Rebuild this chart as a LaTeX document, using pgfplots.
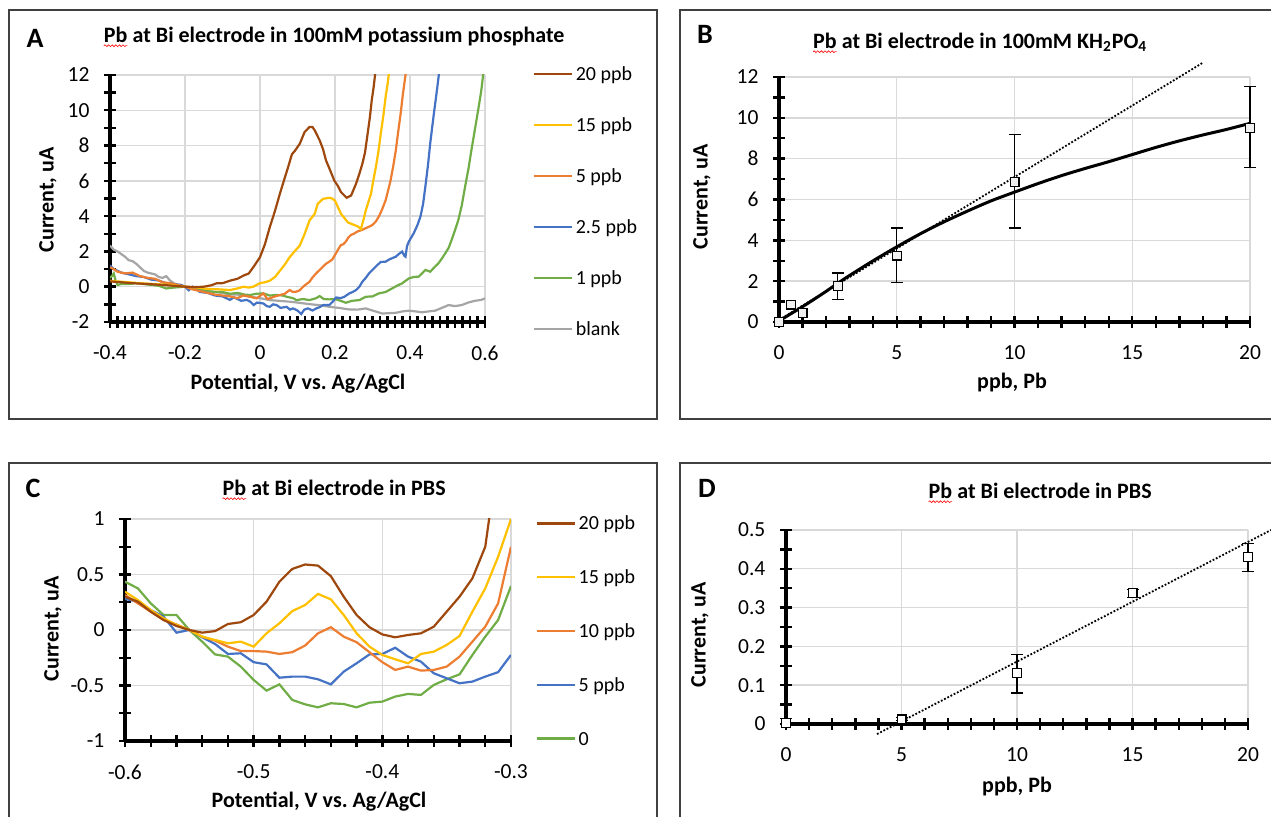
\documentclass[border=0pt]{standalone}
\usepackage{fontspec}
\setmainfont{Carlito}
\usepackage{pgfplots}
\pgfplotsset{compat=1.18}
\usetikzlibrary{decorations.pathmorphing}

\definecolor{c20}{HTML}{9E480E}
\definecolor{c15}{HTML}{FFC000}
\definecolor{c5}{HTML}{ED7D31}
\definecolor{c25}{HTML}{4472C4}
\definecolor{c1}{HTML}{70AD47}
\definecolor{cb}{HTML}{A5A5A5}
\definecolor{gridc}{HTML}{D9D9D9}
\definecolor{framec}{HTML}{404040}

\newcommand\ttl{\fontsize{11}{13}\selectfont\bfseries}
\newcommand\pnl{\fontsize{14}{16}\selectfont\bfseries}
% red spell-check squiggle under a word
\newcommand\spell[1]{\tikz[baseline=(w.base)]{\node[inner sep=0pt,outer sep=0pt](w){#1};
  \draw[red,line width=0.3pt,decorate,decoration={snake,amplitude=0.45pt,segment length=1.8pt}]
  ([yshift=-1.5pt]w.south west)--([yshift=-1.5pt]w.south east);}}

\pgfplotsset{
  xlstyle/.style={
    scale only axis,
    axis lines=left,
    axis line style={-, black, line width=1.6pt},
    xtick pos=left, ytick pos=left,
    tick align=center,
    major tick length=5.6pt, minor tick length=5.6pt,
    every tick/.style={black, line width=1.2pt},
    every minor tick/.style={black, line width=1.2pt},
    grid=major, major grid style={gridc, line width=0.7pt},
    tick label style={font=\fontsize{10.75}{12}\selectfont, inner sep=0pt},
    xticklabel style={yshift=-8.8pt},
    yticklabel style={xshift=-7.3pt},
  },
  lgstyle/.style={
    legend cell align=left,
    legend image code/.code={\draw[##1, line width=1.2pt] (0pt,0pt) -- (19pt,0pt);},
    legend style={draw=none, fill=none, inner sep=0pt, column sep=1.5pt,
      font=\fontsize{10}{12}\selectfont,
      nodes={inner sep=0pt, text height=7pt, text depth=0.5pt}},
  },
  dotline/.style={black, line width=0.9pt, dash pattern=on 0.9pt off 0.9pt},
}

\begin{document}
\begin{tikzpicture}
% panel frames
\draw[framec, line width=0.8pt] (4.5pt,199pt) rectangle (328.5pt,403.5pt);
\draw[framec, line width=0.8pt] (640pt,403.5pt) -- (340pt,403.5pt) -- (340pt,199pt) -- (640pt,199pt);
\draw[framec, line width=0.8pt] (4.5pt,-5pt) -- (4.5pt,177pt) -- (328.5pt,177pt) -- (328.5pt,-5pt);
\draw[framec, line width=0.8pt] (640pt,177pt) -- (340pt,177pt) -- (340pt,-5pt);

% ---------------- A ----------------
\begin{axis}[xlstyle, lgstyle, at={(55pt,247.5pt)}, anchor=south west,
  width=187.5pt, height=123.5pt,
  xmin=-0.4, xmax=0.6, ymin=-2, ymax=12,
  xtick={-0.4,-0.2,0,0.2,0.4,0.6}, xticklabels={-0.4,-0.2,0,0.2,0.4,0.6},
  ytick={-2,0,2,4,6,8,10,12}, yticklabels={-2,0,2,4,6,8,10,12},
  minor x tick num=9, minor y tick num=1,
  every axis plot/.append style={line width=1.1pt},
  reverse legend,
  legend style={at={(axis description cs:1.1253,1.037)}, anchor=north west, row sep=18pt},
]
\addplot[cb] coordinates {
(-0.40,2.33) (-0.39,2.1) (-0.38,2.0) (-0.37,1.85) (-0.36,1.7) (-0.35,1.5) (-0.34,1.45) (-0.33,1.3)
(-0.32,1.1) (-0.31,0.9) (-0.30,0.8) (-0.28,0.7) (-0.27,0.55) (-0.26,0.5) (-0.25,0.6) (-0.24,0.35)
(-0.23,0.2) (-0.22,0.1) (-0.20,0.0) (-0.18,-0.1) (-0.16,-0.2) (-0.14,-0.25) (-0.12,-0.3) (-0.10,-0.35)
(-0.08,-0.45) (-0.06,-0.45) (-0.04,-0.5) (-0.026,-0.57) (0.0,-0.65) (0.026,-0.76) (0.05,-0.8)
(0.079,-0.85) (0.1,-0.9) (0.132,-0.99) (0.16,-1.05) (0.185,-1.14) (0.21,-1.2) (0.238,-1.29)
(0.26,-1.3) (0.282,-1.23) (0.3,-1.35) (0.326,-1.52) (0.345,-1.5) (0.362,-1.48) (0.38,-1.4)
(0.397,-1.36) (0.415,-1.4) (0.432,-1.45) (0.45,-1.4) (0.467,-1.36) (0.485,-1.2) (0.503,-1.04)
(0.52,-1.1) (0.538,-1.04) (0.555,-0.9) (0.573,-0.8) (0.59,-0.75) (0.6,-0.66)};
\addlegendentry{blank}
\addplot[c1] coordinates {
(-0.40,0.5) (-0.395,0.6) (-0.39,0.75) (-0.385,0.35) (-0.38,0.1) (-0.37,0.15) (-0.35,0.15) (-0.33,0.2)
(-0.31,0.15) (-0.29,0.1) (-0.27,0.05) (-0.25,-0.1) (-0.23,-0.05) (-0.20,0.0) (-0.18,-0.1) (-0.16,-0.15)
(-0.14,-0.25) (-0.12,-0.3) (-0.10,-0.3) (-0.08,-0.4) (-0.06,-0.35) (-0.04,-0.45) (-0.026,-0.47)
(-0.01,-0.4) (0.009,-0.38) (0.026,-0.5) (0.044,-0.47) (0.06,-0.5) (0.071,-0.57) (0.088,-0.65)
(0.097,-0.76) (0.115,-0.7) (0.132,-0.76) (0.15,-0.65) (0.159,-0.53) (0.17,-0.7) (0.185,-0.72)
(0.2,-0.7) (0.215,-0.8) (0.229,-0.91) (0.245,-0.8) (0.265,-0.76) (0.282,-0.57) (0.3,-0.55)
(0.317,-0.38) (0.335,-0.3) (0.353,-0.09) (0.365,0.05) (0.379,0.19) (0.397,0.47) (0.41,0.55)
(0.423,0.57) (0.432,0.75) (0.441,0.95) (0.454,0.85) (0.465,1.1) (0.476,1.33) (0.485,1.6)
(0.494,1.89) (0.503,2.2) (0.511,2.65) (0.52,3.2) (0.529,3.79) (0.538,4.6) (0.547,5.68)
(0.556,6.7) (0.564,7.77) (0.573,8.9) (0.582,10.04) (0.59,11.1) (0.595,12.0) (0.6,12.3)};
\addlegendentry{1 ppb}
\addplot[c25] coordinates {
(-0.40,1.2) (-0.39,1.0) (-0.38,0.9) (-0.37,0.8) (-0.35,0.7) (-0.33,0.6) (-0.31,0.55) (-0.29,0.4)
(-0.27,0.35) (-0.25,0.2) (-0.23,0.15) (-0.21,0.1) (-0.20,0.0) (-0.19,-0.2) (-0.18,0.0) (-0.16,-0.3)
(-0.14,-0.35) (-0.12,-0.5) (-0.10,-0.55) (-0.08,-0.75) (-0.07,-0.6) (-0.05,-0.8) (-0.035,-0.75)
(-0.026,-0.85) (-0.017,-1.04) (-0.008,-0.9) (0.009,-0.95) (0.018,-1.1) (0.026,-1.14) (0.035,-1.0)
(0.044,-1.04) (0.055,-1.2) (0.071,-1.14) (0.08,-1.3) (0.088,-1.23) (0.1,-1.35) (0.11,-1.55)
(0.118,-1.3) (0.128,-1.23) (0.14,-1.35) (0.15,-1.23) (0.16,-1.15) (0.168,-1.04) (0.185,-1.04)
(0.194,-0.85) (0.203,-0.61) (0.215,-0.65) (0.225,-0.57) (0.238,-0.38) (0.247,-0.3) (0.256,-0.19)
(0.265,0.0) (0.273,0.28) (0.282,0.5) (0.291,0.76) (0.3,0.95) (0.313,1.23) (0.322,1.4) (0.335,1.42)
(0.345,1.55) (0.362,1.7) (0.37,1.85) (0.379,1.99) (0.385,1.75) (0.388,1.7) (0.392,2.3) (0.397,2.56)
(0.41,3.03) (0.42,3.5) (0.428,3.98) (0.435,4.7) (0.441,5.68) (0.448,6.9) (0.454,8.14) (0.463,9.7)
(0.472,11.17) (0.478,12.2)};
\addlegendentry{2.5 ppb}
\addplot[c5] coordinates {
(-0.40,1.1) (-0.39,1.0) (-0.38,0.85) (-0.36,0.75) (-0.34,0.8) (-0.32,0.6) (-0.30,0.5) (-0.28,0.45)
(-0.26,0.25) (-0.24,0.2) (-0.22,0.1) (-0.20,0.0) (-0.18,-0.15) (-0.16,-0.25) (-0.14,-0.35)
(-0.12,-0.45) (-0.10,-0.5) (-0.08,-0.55) (-0.06,-0.65) (-0.045,-0.5) (-0.026,-0.57) (-0.009,-0.66)
(0.009,-0.38) (0.02,-0.7) (0.026,-0.66) (0.04,-0.55) (0.053,-0.47) (0.066,-0.4) (0.079,-0.19)
(0.088,-0.3) (0.097,-0.28) (0.106,-0.2) (0.115,0.0) (0.124,0.15) (0.132,0.28) (0.141,0.55)
(0.15,0.76) (0.159,0.95) (0.168,1.14) (0.176,1.3) (0.185,1.42) (0.193,1.55) (0.2,1.8) (0.208,2.1)
(0.216,2.37) (0.222,2.4) (0.229,2.56) (0.236,2.8) (0.243,2.94) (0.25,3.0) (0.26,3.13) (0.27,3.2)
(0.282,3.32) (0.291,3.4) (0.3,3.5) (0.309,3.7) (0.317,3.98) (0.326,4.4) (0.335,4.9) (0.341,5.4)
(0.348,6.0) (0.355,6.8) (0.362,7.7) (0.368,8.7) (0.375,9.8) (0.381,10.9) (0.388,12.0) (0.392,12.6)};
\addlegendentry{5 ppb}
\addplot[c15] coordinates {
(-0.40,0.34) (-0.38,0.3) (-0.35,0.25) (-0.32,0.2) (-0.28,0.15) (-0.24,0.1) (-0.22,0.05) (-0.20,0.0)
(-0.17,-0.05) (-0.14,-0.12) (-0.11,-0.15) (-0.08,-0.19) (-0.06,-0.1) (-0.044,0.0) (-0.03,-0.05)
(-0.018,0.0) (0.0,0.2) (0.013,0.25) (0.026,0.34) (0.04,0.55) (0.053,0.9) (0.066,1.25) (0.079,1.67)
(0.092,2.0) (0.106,2.33) (0.119,2.99) (0.132,3.75) (0.146,4.13) (0.154,4.7) (0.168,4.98)
(0.185,5.04) (0.192,5.0) (0.2,4.88) (0.208,4.5) (0.216,4.13) (0.225,3.9) (0.234,3.65) (0.245,3.55)
(0.256,3.46) (0.262,3.4) (0.269,3.27) (0.276,3.8) (0.282,4.32) (0.289,4.8) (0.296,5.27) (0.302,6.0)
(0.309,6.78) (0.316,7.7) (0.322,8.67) (0.329,9.7) (0.335,10.76) (0.341,11.6) (0.346,12.5)};
\addlegendentry{15 ppb}
\addplot[c20] coordinates {
(-0.40,0.30) (-0.37,0.25) (-0.34,0.2) (-0.30,0.15) (-0.26,0.1) (-0.23,0.05) (-0.20,0.00)
(-0.17,-0.02) (-0.15,0.0) (-0.13,0.08) (-0.116,0.19) (-0.10,0.2) (-0.08,0.34) (-0.06,0.45)
(-0.044,0.63) (-0.03,0.75) (-0.018,1.1) (0.0,1.67) (0.013,2.4) (0.026,3.37) (0.04,4.3) (0.053,5.27)
(0.065,6.1) (0.075,6.78) (0.085,7.5) (0.093,7.7) (0.106,8.1) (0.119,8.77) (0.132,9.05) (0.14,9.05)
(0.146,8.86) (0.159,8.3) (0.168,7.8) (0.176,7.16) (0.187,6.6) (0.198,6.02) (0.208,5.7) (0.216,5.36)
(0.231,5.04) (0.243,5.17) (0.256,5.83) (0.265,6.4) (0.273,6.97) (0.28,7.6) (0.287,8.67) (0.293,9.6)
(0.298,10.57) (0.303,11.3) (0.31,12.6)};
\addlegendentry{20 ppb}
\end{axis}

% ---------------- B ----------------
\begin{axis}[xlstyle, at={(389.5pt,247.5pt)}, anchor=south west,
  width=235.5pt, height=122.5pt,
  xmin=0, xmax=20, ymin=0, ymax=12, clip=false,
  xtick={0,5,10,15,20}, xticklabels={0,5,10,15,20},
  ytick={0,2,4,6,8,10,12}, yticklabels={0,2,4,6,8,10,12},
  minor x tick num=4, minor y tick num=1,
]
\addplot[black, line width=1.5pt, smooth] coordinates {
(0,0.05) (0.5,0.4) (1,0.75) (1.5,1.12) (2,1.5) (2.5,1.9) (3,2.28) (4,3.0) (5,3.68) (6,4.32)
(7,4.9) (8,5.43) (9,5.93) (10,6.36) (11,6.78) (12,7.17) (13,7.52) (14,7.85) (15,8.2) (16,8.55)
(17,8.87) (18,9.16) (19,9.43) (20,9.73)};
\addplot[dotline] coordinates {(0,0.1) (18,12.7)};
\addplot[only marks, mark=square*, mark size=2.2pt,
  mark options={fill=gray!12, draw=black, line width=0.6pt}] coordinates {
(0,0) (0.5,0.85) (1,0.45)};
\addplot[only marks, mark=square*, mark size=2.2pt,
  mark options={fill=gray!12, draw=black, line width=0.6pt},
  error bars/.cd, y dir=both, y explicit,
  error bar style={black, line width=0.6pt},
  error mark options={rotate=90, mark size=3pt, black, line width=0.6pt}] coordinates {
(2.5,1.75) += (0,0.65) -= (0,0.65)
(5,3.25) += (0,1.35) -= (0,1.3)
(10,6.85) += (0,2.35) -= (0,2.25)
(20,9.5) += (0,2.05) -= (0,1.95)};
\end{axis}

% ---------------- C ----------------
\begin{axis}[xlstyle, lgstyle, at={(62.5pt,38pt)}, anchor=south west,
  width=193pt, height=111pt,
  xmin=-0.6, xmax=-0.3, ymin=-1, ymax=1,
  xtick={-0.6,-0.5,-0.4,-0.3}, xticklabels={-0.6,-0.5,-0.4,-0.3},
  ytick={-1,-0.5,0,0.5,1}, yticklabels={-1,-0.5,0,0.5,1},
  minor x tick num=4, minor y tick num=1,
  every axis plot/.append style={line width=1.1pt},
  reverse legend,
  legend style={at={(axis description cs:1.062,1.016)}, anchor=north west, row sep=19.4pt},
]
\addplot[c1] coordinates {
(-0.60,0.435) (-0.59,0.375) (-0.58,0.24) (-0.57,0.135) (-0.56,0.135) (-0.55,0.0) (-0.54,-0.105)
(-0.53,-0.22) (-0.52,-0.24) (-0.51,-0.33) (-0.50,-0.45) (-0.49,-0.546) (-0.48,-0.49) (-0.47,-0.63)
(-0.46,-0.67) (-0.45,-0.697) (-0.44,-0.66) (-0.43,-0.667) (-0.42,-0.697) (-0.41,-0.655) (-0.40,-0.645)
(-0.39,-0.6) (-0.38,-0.576) (-0.37,-0.585) (-0.36,-0.495) (-0.35,-0.444) (-0.34,-0.4) (-0.33,-0.225)
(-0.32,-0.06) (-0.31,0.09) (-0.30,0.396)};
\addlegendentry{0}
\addplot[c25] coordinates {
(-0.60,0.28) (-0.59,0.255) (-0.58,0.18) (-0.57,0.12) (-0.56,-0.024) (-0.55,0.0) (-0.54,-0.066)
(-0.53,-0.126) (-0.52,-0.216) (-0.51,-0.21) (-0.50,-0.29) (-0.49,-0.31) (-0.48,-0.43) (-0.47,-0.42)
(-0.46,-0.42) (-0.45,-0.444) (-0.44,-0.49) (-0.43,-0.375) (-0.42,-0.3) (-0.41,-0.22) (-0.40,-0.216)
(-0.39,-0.16) (-0.38,-0.24) (-0.37,-0.285) (-0.36,-0.39) (-0.35,-0.435) (-0.34,-0.48) (-0.33,-0.465)
(-0.32,-0.42) (-0.31,-0.38) (-0.30,-0.225)};
\addlegendentry{5 ppb}
\addplot[c5] coordinates {
(-0.60,0.315) (-0.59,0.24) (-0.58,0.165) (-0.57,0.09) (-0.56,0.05) (-0.55,0.0) (-0.54,-0.06)
(-0.53,-0.096) (-0.52,-0.15) (-0.51,-0.19) (-0.50,-0.19) (-0.49,-0.195) (-0.48,-0.216) (-0.47,-0.2)
(-0.46,-0.14) (-0.45,-0.03) (-0.44,0.025) (-0.43,-0.06) (-0.42,-0.11) (-0.41,-0.2) (-0.40,-0.29)
(-0.39,-0.36) (-0.38,-0.33) (-0.37,-0.366) (-0.36,-0.36) (-0.35,-0.33) (-0.34,-0.24) (-0.33,-0.105)
(-0.32,0.03) (-0.31,0.24) (-0.30,0.75)};
\addlegendentry{10 ppb}
\addplot[c15] coordinates {
(-0.60,0.345) (-0.59,0.27) (-0.58,0.18) (-0.57,0.105) (-0.56,0.045) (-0.55,0.0) (-0.54,-0.06)
(-0.53,-0.09) (-0.52,-0.12) (-0.51,-0.105) (-0.50,-0.15) (-0.49,-0.03) (-0.48,0.06) (-0.47,0.17)
(-0.46,0.225) (-0.45,0.325) (-0.44,0.276) (-0.43,0.135) (-0.42,-0.03) (-0.41,-0.15) (-0.40,-0.225)
(-0.39,-0.264) (-0.38,-0.3) (-0.37,-0.216) (-0.36,-0.195) (-0.35,-0.135) (-0.34,-0.054) (-0.33,0.165)
(-0.32,0.375) (-0.31,0.66) (-0.30,1.0)};
\addlegendentry{15 ppb}
\addplot[c20] coordinates {
(-0.60,0.3) (-0.59,0.255) (-0.58,0.165) (-0.57,0.09) (-0.56,0.036) (-0.55,0.0) (-0.54,-0.024)
(-0.53,-0.01) (-0.52,0.054) (-0.51,0.07) (-0.50,0.135) (-0.49,0.255) (-0.48,0.435) (-0.47,0.55)
(-0.46,0.59) (-0.45,0.58) (-0.44,0.485) (-0.43,0.3) (-0.42,0.135) (-0.41,0.025) (-0.40,-0.04)
(-0.39,-0.066) (-0.38,-0.045) (-0.37,-0.03) (-0.36,0.03) (-0.35,0.165) (-0.34,0.3) (-0.33,0.465)
(-0.32,0.75) (-0.31,1.58)};
\addlegendentry{20 ppb}
\end{axis}

% ---------------- D ----------------
\begin{axis}[xlstyle, at={(393pt,46.5pt)}, anchor=south west,
  width=231pt, height=97pt,
  xmin=0, xmax=20, ymin=0, ymax=0.5, clip=false,
  xtick={0,5,10,15,20}, xticklabels={0,5,10,15,20},
  ytick={0,0.1,0.2,0.3,0.4,0.5}, yticklabels={0,0.1,0.2,0.3,0.4,0.5},
  minor x tick num=4, minor y tick num=1,
]
\addplot[dotline] coordinates {(3.94,-0.026) (21.0,0.5)};
\addplot[only marks, mark=square*, mark size=2.2pt,
  mark options={fill=white, draw=black, line width=0.6pt},
  error bars/.cd, y dir=both, y explicit,
  error bar style={black, line width=0.6pt},
  error mark options={rotate=90, mark size=3pt, black, line width=0.6pt}] coordinates {
(0,0.002) += (0,0.012) -= (0,0.002)
(5,0.012) += (0,0.004) -= (0,0.004)
(10,0.132) += (0,0.048) -= (0,0.052)
(15,0.337) += (0,0.01) -= (0,0.012)
(20,0.43) += (0,0.035) -= (0,0.037)};
\end{axis}

% ---------------- texts ----------------
\node[font=\pnl] at (17.5pt,389.5pt) {A};
\node[font=\pnl] at (352.5pt,391.5pt) {B};
\node[font=\pnl] at (16.5pt,164.5pt) {C};
\node[font=\pnl] at (353.5pt,164.5pt) {D};

\node[font=\ttl, inner sep=0pt] at (167pt,390pt) {\spell{Pb} at Bi electrode in 100mM potassium phosphate};
\node[font=\ttl, inner sep=0pt] at (490pt,387pt) {\spell{Pb} at Bi electrode in 100mM KH\textsubscript{2}PO\textsubscript{4}};
\node[font=\ttl, inner sep=0pt] at (167pt,163.5pt) {\spell{Pb} at Bi electrode in PBS};
\node[font=\ttl, inner sep=0pt] at (520pt,162pt) {\spell{Pb} at Bi electrode in PBS};

\node[font=\ttl, rotate=90, inner sep=0pt] at (24pt,308.5pt) {Current, uA};
\node[font=\ttl, rotate=90, inner sep=0pt] at (351pt,310pt) {Current, uA};
\node[font=\ttl, rotate=90, inner sep=0pt] at (26.5pt,94pt) {Current, uA};
\node[font=\ttl, rotate=90, inner sep=0pt] at (350pt,91pt) {Current, uA};

\node[font=\ttl, inner sep=0pt] at (149pt,216.5pt) {Potential, V vs.\ Ag/AgCl};
\node[font=\ttl, inner sep=0pt] at (506pt,217pt) {ppb, Pb};
\node[font=\ttl, inner sep=0pt] at (159.5pt,7.5pt) {Potential, V vs.\ Ag/AgCl};
\node[font=\ttl, inner sep=0pt] at (508.5pt,15pt) {ppb, Pb};

\pgfresetboundingbox
\useasboundingbox (0pt,0pt) rectangle (635.5pt,408.5pt);
\end{tikzpicture}
\end{document}
